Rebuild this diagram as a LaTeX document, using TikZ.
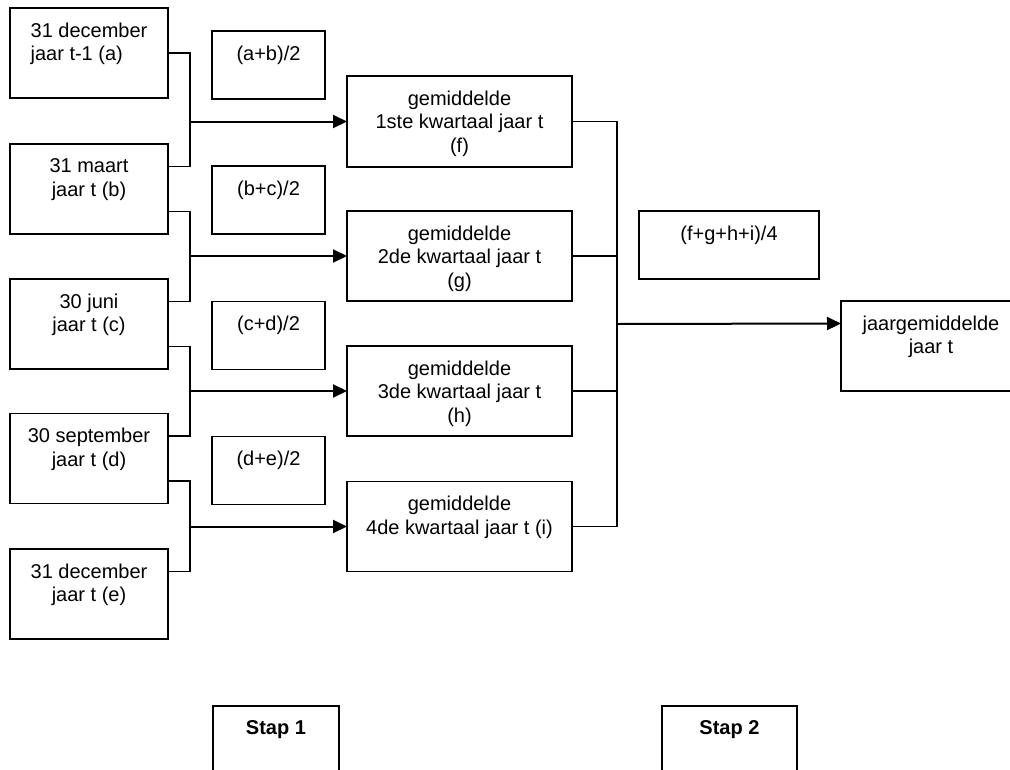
\documentclass[tikz,border=0pt]{standalone}
\usepackage{fontspec}
\setmainfont{Liberation Sans}
\usetikzlibrary{arrows.meta,calc}
\begin{document}
\begin{tikzpicture}[x=1pt,y=-1pt,
  box/.style={draw,line width=1.6pt,rectangle,inner sep=0pt,outer sep=0pt},
  txt/.style={anchor=north,align=center,inner sep=0pt,font=\fontsize{20}{23.5}\selectfont},
  ln/.style={line width=1.6pt},
  arr/.style={line width=2pt,-{Triangle[length=14pt,width=13pt]}}]
\useasboundingbox (0,0) rectangle (1010,769);
\clip (0,0) rectangle (1010,769);
% left boxes
\node[box,minimum width=158pt,minimum height=90pt] (a) at (89,53) {};
\node[box,minimum width=158pt,minimum height=90pt] (b) at (89,189) {};
\node[box,minimum width=158pt,minimum height=90pt] (c) at (89,324) {};
\node[box,minimum width=158pt,minimum height=90pt] (d) at (89,458.5) {};
\node[box,minimum width=158pt,minimum height=90pt] (e) at (89,594) {};
\node[txt,align=left] (ta) at ([yshift=-14.5pt]a.north) {31 december\\jaar t-1 (a)};
\node[txt] (tb) at ([yshift=-14.5pt]b.north) {31 maart\\jaar t (b)};
\node[txt] (tc) at ([yshift=-14.5pt]c.north) {30 juni\\jaar t (c)};
\node[txt] (td) at ([yshift=-14.5pt]d.north) {30 september\\jaar t (d)};
\node[txt] (te) at ([yshift=-14.5pt]e.north) {31 december\\jaar t (e)};
% formula boxes
\node[box,minimum width=113pt,minimum height=68pt] (fab) at (268.5,65) {};
\node[box,minimum width=113pt,minimum height=68pt] (fbc) at (268.5,200) {};
\node[box,minimum width=113pt,minimum height=68pt] (fcd) at (268.5,335.5) {};
\node[box,minimum width=113pt,minimum height=68pt] (fde) at (268.5,470.5) {};
\node[txt] (tfab) at ([yshift=-14.5pt]fab.north) {(a+b)/2};
\node[txt] (tfbc) at ([yshift=-14.5pt]fbc.north) {(b+c)/2};
\node[txt] (tfcd) at ([yshift=-14.5pt]fcd.north) {(c+d)/2};
\node[txt] (tfde) at ([yshift=-14.5pt]fde.north) {(d+e)/2};
% quarter boxes
\node[box,minimum width=225pt,minimum height=91pt] (f) at (459.5,121.5) {};
\node[box,minimum width=225pt,minimum height=90pt] (g) at (459.5,256) {};
\node[box,minimum width=225pt,minimum height=90pt] (h) at (459.5,391) {};
\node[box,minimum width=225pt,minimum height=90pt] (i) at (459.5,526.5) {};
\node[txt] (tf) at ([yshift=-14.5pt]f.north) {gemiddelde\\1ste kwartaal jaar t\\(f)};
\node[txt] (tg) at ([yshift=-14.5pt]g.north) {gemiddelde\\2de kwartaal jaar t\\(g)};
\node[txt] (th) at ([yshift=-14.5pt]h.north) {gemiddelde\\3de kwartaal jaar t\\(h)};
\node[txt] (ti) at ([yshift=-14.5pt]i.north) {gemiddelde\\4de kwartaal jaar t (i)};
% year
\node[box,minimum width=180pt,minimum height=68pt] (fy) at (729,245) {};
\node[txt] (tfy) at ([yshift=-14.5pt]fy.north) {(f+g+h+i)/4};
\node[box,minimum width=180pt,minimum height=90pt] (y) at (931,346) {};
\node[txt] (ty) at ([yshift=-14.5pt]y.north) {jaargemiddelde\\jaar t};
% stap boxes
\node[box,minimum width=126pt,minimum height=90pt] (s1) at (276,751) {};
\node[box,minimum width=135pt,minimum height=90pt] (s2) at (729.5,751) {};
\node[txt,font=\fontsize{20}{23.5}\selectfont\bfseries] (ts1) at ([yshift=-14.5pt]s1.north) {Stap 1};
\node[txt,font=\fontsize{20}{23.5}\selectfont\bfseries] (ts2) at ([yshift=-14.5pt]s2.north) {Stap 2};
% connectors left
\coordinate (J) at (190,0);
\draw[ln] (a.east) -| (J |- b.north) |- ($(b.north east)!.25!(b.south east)$);
\draw[ln] ($(b.north east)!.75!(b.south east)$) -| (J |- c.north) |- ($(c.north east)!.25!(c.south east)$);
\draw[ln] ($(c.north east)!.75!(c.south east)$) -| (J |- d.north) |- ($(d.north east)!.25!(d.south east)$);
\draw[ln] ($(d.north east)!.75!(d.south east)$) -| (J |- e.north) |- ($(e.north east)!.25!(e.south east)$);
\draw[arr] (J |- f.west) -- (f.west);
\draw[arr] (J |- g.west) -- (g.west);
\draw[arr] (J |- h.west) -- (h.west);
\draw[arr] (J |- i.west) -- (i.west);
% connectors right
\coordinate (K) at (617,0);
\draw[ln] (f.east) -| (K |- i.east) -- (i.east);
\draw[ln] (g.east) -- (K |- g.east);
\draw[ln] (h.east) -- (K |- h.east);
\draw[arr] (K |- 0,324) -- ($(y.north west)!.25!(y.south west)$);
\end{tikzpicture}
\end{document}
